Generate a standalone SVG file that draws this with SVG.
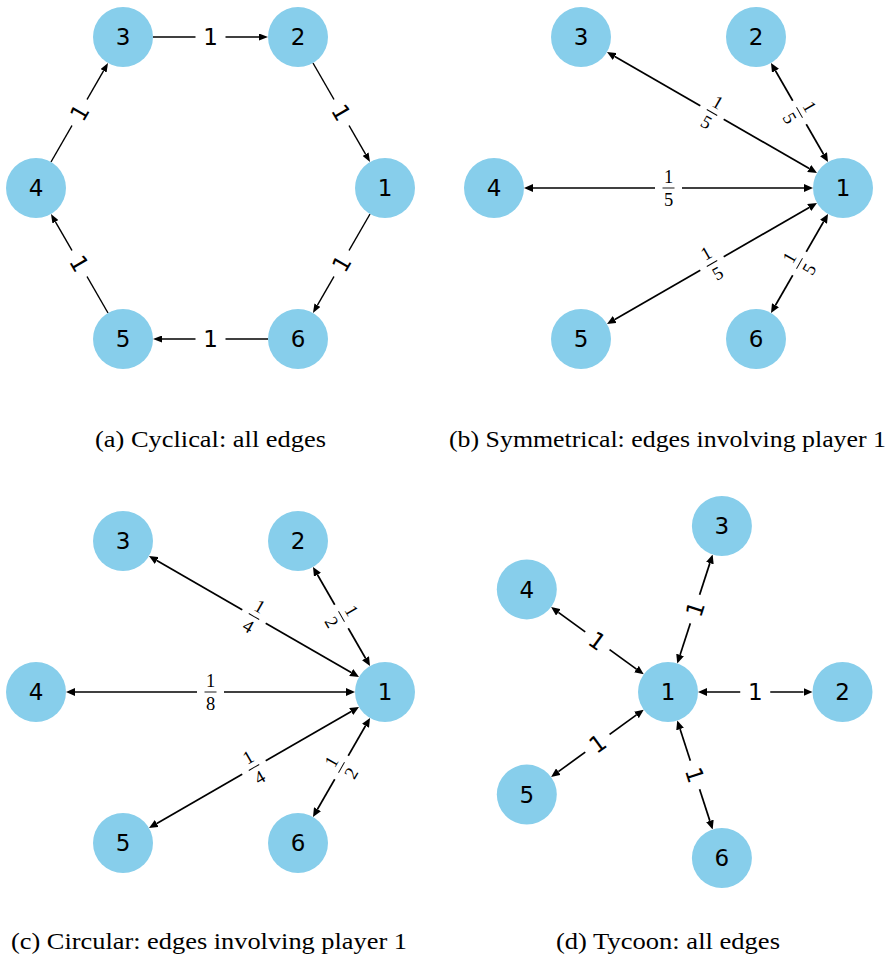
<svg xmlns="http://www.w3.org/2000/svg" width="896" height="957" viewBox="0 0 896 957">
<style>
.node{fill:#87CEEB;}
.nl{font-family:"DejaVu Sans",sans-serif;font-size:23px;fill:#000;text-anchor:middle;}
.el{font-family:"DejaVu Sans",sans-serif;font-size:23px;fill:#000;text-anchor:middle;}
.fr{font-family:"Liberation Serif",serif;font-size:18.5px;fill:#000;text-anchor:middle;}
.bar{stroke:#000;stroke-width:0.9;}
.lb{fill:#fff;}
.e1{stroke:#000;stroke-width:1.4;fill:none;marker-end:url(#ah);}
.e2{stroke:#000;stroke-width:1.7;fill:none;marker-end:url(#ah2);marker-start:url(#ah2);}
.cap{font-family:"Liberation Serif",serif;font-size:23px;fill:#000;}
</style>
<defs>
<marker id="ah" markerUnits="userSpaceOnUse" markerWidth="9" markerHeight="7" viewBox="0 0 9 7" refX="0" refY="3.5" orient="auto"><path d="M0,0 L9,3.5 L0,7 z" fill="#000"/></marker>
<marker id="ah2" markerUnits="userSpaceOnUse" markerWidth="9" markerHeight="8" viewBox="0 0 9 8" refX="0" refY="4" orient="auto-start-reverse"><path d="M0,0 L9,4 L0,8 z" fill="#000"/></marker>
</defs>
<rect width="896" height="957" fill="#fff"/>

<!-- Panel (a) -->
<g id="panel-a">
<g id="a-edges">
<path class="e1" d="M153,37 L259,37"/>
<path class="e1" d="M312.98,63 L365.53,154.21"/>
<path class="e1" d="M370.02,214 L317.47,305.21"/>
<path class="e1" d="M268,339 L162,339"/>
<path class="e1" d="M108.02,313 L55.47,221.79"/>
<path class="e1" d="M50.98,162 L103.53,70.79"/>
<g transform="translate(210.5,37)"><rect class="lb" x="-15" y="-15" width="30" height="30"/><text class="el" y="8.4">1</text></g>
<g transform="translate(341.5,112.5) rotate(60)"><rect class="lb" x="-15" y="-15" width="30" height="30"/><text class="el" y="8.4">1</text></g>
<g transform="translate(341.5,263.5) rotate(-60)"><rect class="lb" x="-15" y="-15" width="30" height="30"/><text class="el" y="8.4">1</text></g>
<g transform="translate(210.5,339)"><rect class="lb" x="-15" y="-15" width="30" height="30"/><text class="el" y="8.4">1</text></g>
<g transform="translate(79.5,263.5) rotate(60)"><rect class="lb" x="-15" y="-15" width="30" height="30"/><text class="el" y="8.4">1</text></g>
<g transform="translate(79.5,112.5) rotate(-60)"><rect class="lb" x="-15" y="-15" width="30" height="30"/><text class="el" y="8.4">1</text></g>
</g>
<g id="a-n1"><circle class="node" cx="385" cy="188" r="30"/><text class="nl" x="385" y="196.4">1</text></g>
<g id="a-n2"><circle class="node" cx="298" cy="37" r="30"/><text class="nl" x="298" y="45.4">2</text></g>
<g id="a-n3"><circle class="node" cx="123" cy="37" r="30"/><text class="nl" x="123" y="45.4">3</text></g>
<g id="a-n4"><circle class="node" cx="36" cy="188" r="30"/><text class="nl" x="36" y="196.4">4</text></g>
<g id="a-n5"><circle class="node" cx="123" cy="339" r="30"/><text class="nl" x="123" y="347.4">5</text></g>
<g id="a-n6"><circle class="node" cx="298" cy="339" r="30"/><text class="nl" x="298" y="347.4">6</text></g>
</g>
<text class="cap" x="95" y="447" textLength="231" lengthAdjust="spacingAndGlyphs">(a) Cyclical: all edges</text>

<!-- Panel (b) -->
<g id="panel-b">
<g id="b-edges">
<path class="e2" d="M809.21,168.53 L614.79,56.47"/>
<path class="e2" d="M823.53,154.21 L775.47,70.79"/>
<path class="e2" d="M804,188 L533,188"/>
<path class="e2" d="M809.21,207.47 L614.79,319.53"/>
<path class="e2" d="M823.53,221.79 L775.47,305.21"/>
<g transform="translate(712,112.5) rotate(30)"><rect class="lb" x="-13.5" y="-19" width="27" height="38"/><text class="fr" y="-5.5">1</text><line class="bar" x1="-6" y1="0" x2="6" y2="0"/><text class="fr" y="17.5">5</text></g>
<g transform="translate(799.5,112.5) rotate(60)"><rect class="lb" x="-13.5" y="-19" width="27" height="38"/><text class="fr" y="-5.5">1</text><line class="bar" x1="-6" y1="0" x2="6" y2="0"/><text class="fr" y="17.5">5</text></g>
<g transform="translate(668.5,188)"><rect class="lb" x="-13.5" y="-19" width="27" height="38"/><text class="fr" y="-5.5">1</text><line class="bar" x1="-6" y1="0" x2="6" y2="0"/><text class="fr" y="17.5">5</text></g>
<g transform="translate(712,263.5) rotate(-30)"><rect class="lb" x="-13.5" y="-19" width="27" height="38"/><text class="fr" y="-5.5">1</text><line class="bar" x1="-6" y1="0" x2="6" y2="0"/><text class="fr" y="17.5">5</text></g>
<g transform="translate(799.5,263.5) rotate(-60)"><rect class="lb" x="-13.5" y="-19" width="27" height="38"/><text class="fr" y="-5.5">1</text><line class="bar" x1="-6" y1="0" x2="6" y2="0"/><text class="fr" y="17.5">5</text></g>
</g>
<g id="b-n1"><circle class="node" cx="843" cy="188" r="30"/><text class="nl" x="843" y="196.4">1</text></g>
<g id="b-n2"><circle class="node" cx="756" cy="37" r="30"/><text class="nl" x="756" y="45.4">2</text></g>
<g id="b-n3"><circle class="node" cx="581" cy="37" r="30"/><text class="nl" x="581" y="45.4">3</text></g>
<g id="b-n4"><circle class="node" cx="494" cy="188" r="30"/><text class="nl" x="494" y="196.4">4</text></g>
<g id="b-n5"><circle class="node" cx="581" cy="339" r="30"/><text class="nl" x="581" y="347.4">5</text></g>
<g id="b-n6"><circle class="node" cx="756" cy="339" r="30"/><text class="nl" x="756" y="347.4">6</text></g>
</g>
<text class="cap" x="449" y="447" textLength="437" lengthAdjust="spacingAndGlyphs">(b) Symmetrical: edges involving player 1</text>

<!-- Panel (c) -->
<g id="panel-c" transform="translate(-458,504)">
<g id="c-edges">
<path class="e2" d="M809.21,168.53 L614.79,56.47"/>
<path class="e2" d="M823.53,154.21 L775.47,70.79"/>
<path class="e2" d="M804,188 L533,188"/>
<path class="e2" d="M809.21,207.47 L614.79,319.53"/>
<path class="e2" d="M823.53,221.79 L775.47,305.21"/>
<g transform="translate(712,112.5) rotate(30)"><rect class="lb" x="-13.5" y="-19" width="27" height="38"/><text class="fr" y="-5.5">1</text><line class="bar" x1="-6" y1="0" x2="6" y2="0"/><text class="fr" y="17.5">4</text></g>
<g transform="translate(799.5,112.5) rotate(60)"><rect class="lb" x="-13.5" y="-19" width="27" height="38"/><text class="fr" y="-5.5">1</text><line class="bar" x1="-6" y1="0" x2="6" y2="0"/><text class="fr" y="17.5">2</text></g>
<g transform="translate(668.5,188)"><rect class="lb" x="-13.5" y="-19" width="27" height="38"/><text class="fr" y="-5.5">1</text><line class="bar" x1="-6" y1="0" x2="6" y2="0"/><text class="fr" y="17.5">8</text></g>
<g transform="translate(712,263.5) rotate(-30)"><rect class="lb" x="-13.5" y="-19" width="27" height="38"/><text class="fr" y="-5.5">1</text><line class="bar" x1="-6" y1="0" x2="6" y2="0"/><text class="fr" y="17.5">4</text></g>
<g transform="translate(799.5,263.5) rotate(-60)"><rect class="lb" x="-13.5" y="-19" width="27" height="38"/><text class="fr" y="-5.5">1</text><line class="bar" x1="-6" y1="0" x2="6" y2="0"/><text class="fr" y="17.5">2</text></g>
</g>
<g id="c-n1"><circle class="node" cx="843" cy="188" r="30"/><text class="nl" x="843" y="196.4">1</text></g>
<g id="c-n2"><circle class="node" cx="756" cy="37" r="30"/><text class="nl" x="756" y="45.4">2</text></g>
<g id="c-n3"><circle class="node" cx="581" cy="37" r="30"/><text class="nl" x="581" y="45.4">3</text></g>
<g id="c-n4"><circle class="node" cx="494" cy="188" r="30"/><text class="nl" x="494" y="196.4">4</text></g>
<g id="c-n5"><circle class="node" cx="581" cy="339" r="30"/><text class="nl" x="581" y="347.4">5</text></g>
<g id="c-n6"><circle class="node" cx="756" cy="339" r="30"/><text class="nl" x="756" y="347.4">6</text></g>
</g>
<text class="cap" x="11" y="949" textLength="396" lengthAdjust="spacingAndGlyphs">(c) Circular: edges involving player 1</text>

<!-- Panel (d) -->
<g id="panel-d">
<g id="d-edges">
<path class="e2" d="M707,692 L803.5,692"/>
<path class="e2" d="M680.05,654.91 L709.87,563.13"/>
<path class="e2" d="M680.05,729.09 L709.87,820.87"/>
<path class="e2" d="M636.45,669.08 L558.38,612.35"/>
<path class="e2" d="M636.45,714.92 L558.38,771.65"/>
<g transform="translate(755.25,692)"><rect class="lb" x="-15" y="-15" width="30" height="30"/><text class="el" y="8.4">1</text></g>
<g transform="translate(694.96,609.02) rotate(-72)"><rect class="lb" x="-15" y="-15" width="30" height="30"/><text class="el" y="8.4">1</text></g>
<g transform="translate(694.96,774.98) rotate(72)"><rect class="lb" x="-15" y="-15" width="30" height="30"/><text class="el" y="8.4">1</text></g>
<g transform="translate(597.41,640.71) rotate(36)"><rect class="lb" x="-15" y="-15" width="30" height="30"/><text class="el" y="8.4">1</text></g>
<g transform="translate(597.41,743.29) rotate(-36)"><rect class="lb" x="-15" y="-15" width="30" height="30"/><text class="el" y="8.4">1</text></g>
</g>
<g id="d-n1"><circle class="node" cx="668" cy="692" r="30"/><text class="nl" x="668" y="700.4">1</text></g>
<g id="d-n2"><circle class="node" cx="842.5" cy="692" r="30"/><text class="nl" x="842.5" y="700.4">2</text></g>
<g id="d-n3"><circle class="node" cx="721.9" cy="526" r="30"/><text class="nl" x="721.9" y="534.4">3</text></g>
<g id="d-n4"><circle class="node" cx="526.8" cy="589.4" r="30"/><text class="nl" x="526.8" y="597.8">4</text></g>
<g id="d-n5"><circle class="node" cx="526.8" cy="794.6" r="30"/><text class="nl" x="526.8" y="803">5</text></g>
<g id="d-n6"><circle class="node" cx="721.9" cy="858" r="30"/><text class="nl" x="721.9" y="866.4">6</text></g>
</g>
<text class="cap" x="556" y="949" textLength="224" lengthAdjust="spacingAndGlyphs">(d) Tycoon: all edges</text>
</svg>
